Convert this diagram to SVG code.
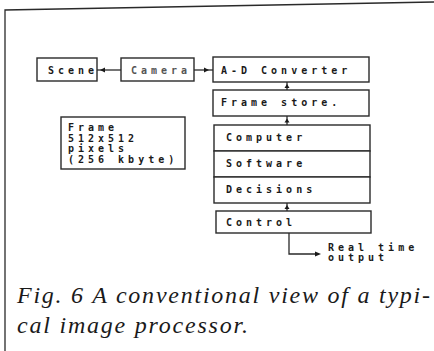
<svg xmlns="http://www.w3.org/2000/svg" width="434" height="351" viewBox="0 0 434 351">
<style>
.box{fill:#fff;stroke:#2a2a2a;stroke-width:1.4}
.lbl{font-family:"DejaVu Sans Mono",monospace;font-weight:bold;font-size:10px;letter-spacing:4px;fill:#1a1a1a}
.line{stroke:#2a2a2a;stroke-width:1.3;fill:none}
.ah{fill:#1a1a1a}
.cap{font-family:"Liberation Serif","Times New Roman",serif;font-style:italic;font-size:24px;fill:#1a1a1a}
</style>
<rect width="434" height="351" fill="#fff"/>
<path d="M5 351 L5 10 L434 2" class="line" stroke-width="1.2"/>
<g id="scene"><rect class="box" x="37" y="58" width="60" height="23"/><text class="lbl" x="48" y="74">Scene</text></g>
<g id="camera"><rect class="box" x="121" y="58" width="73" height="23"/><text class="lbl" x="131" y="74" style="fill:#555">Camera</text></g>
<g id="adc"><rect class="box" x="213" y="57" width="156" height="25"/><text class="lbl" x="221" y="74">A-D Converter</text></g>
<g id="framestore"><rect class="box" x="213" y="90" width="156" height="26"/><text class="lbl" x="221" y="106">Frame store.</text></g>
<g id="frame"><rect class="box" x="61" y="117" width="124" height="52"/><text class="lbl" x="68" y="131">Frame</text><text class="lbl" x="68" y="141.5">512x512</text><text class="lbl" x="68" y="152">pixels</text><text class="lbl" x="68" y="162.5">(256 kbyte)</text></g>
<g id="computer"><rect class="box" x="214" y="125" width="156" height="26"/><text class="lbl" x="226" y="141">Computer</text></g>
<g id="software"><rect class="box" x="214" y="151" width="156" height="26"/><text class="lbl" x="226" y="167">Software</text></g>
<g id="decisions"><rect class="box" x="214" y="177" width="156" height="26"/><text class="lbl" x="226" y="193">Decisions</text></g>
<g id="control"><rect class="box" x="216" y="211" width="155" height="22"/><text class="lbl" x="226" y="226">Control</text></g>
<g id="output"><text class="lbl" x="328" y="251">Real time</text><text class="lbl" x="328" y="261">output</text></g>
<g id="connectors">
<line class="line" x1="97" y1="70" x2="121" y2="70"/><path class="ah" d="M100 70 L105 67.5 L105 72.5 Z"/>
<line class="line" x1="194" y1="70" x2="213" y2="70"/><path class="ah" d="M209 70 L204 67.5 L204 72.5 Z"/>
<line class="line" x1="287" y1="82" x2="287" y2="90"/><path class="ah" d="M287 84 L284.5 88 L289.5 88 Z"/>
<line class="line" x1="287" y1="116" x2="287" y2="125"/><path class="ah" d="M287 118.5 L284.5 122.5 L289.5 122.5 Z"/>
<line class="line" x1="287" y1="203" x2="287" y2="211"/><path class="ah" d="M287 205 L284.5 209 L289.5 209 Z"/>
<path class="line" d="M289 233 L289 254 L316 254"/><path class="ah" d="M321 254 L315 251.5 L315 256.5 Z"/>
</g>
<text class="cap" x="17" y="303" textLength="413" lengthAdjust="spacing">Fig. 6  A conventional view of a typi-</text>
<text class="cap" x="17" y="333" textLength="231" lengthAdjust="spacing">cal image processor.</text>
</svg>
